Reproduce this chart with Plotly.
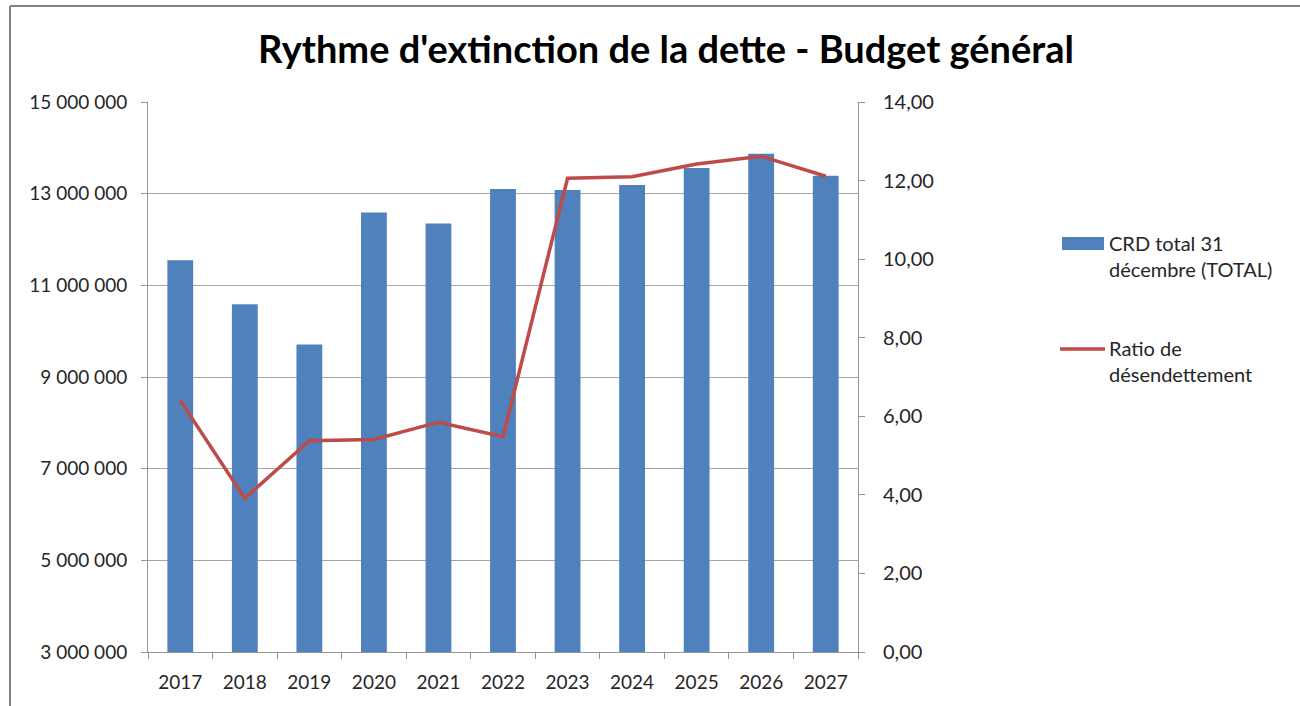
import plotly.graph_objects as go

years = ["2017", "2018", "2019", "2020", "2021", "2022", "2023", "2024", "2025", "2026", "2027"]
crd_total = [11550000, 10590000, 9710000, 12590000, 12350000, 13100000,
             13080000, 13190000, 13560000, 13870000, 13390000]
ratio = [6.40, 3.91, 5.38, 5.41, 5.85, 5.48, 12.06, 12.10, 12.42, 12.62, 12.11]

left_ticks = [3000000, 5000000, 7000000, 9000000, 11000000, 13000000, 15000000]
left_labels = ["3 000 000", "5 000 000", "7 000 000", "9 000 000", "11 000 000", "13 000 000", "15 000 000"]
right_ticks = [0, 2, 4, 6, 8, 10, 12, 14]
right_labels = ["0,00", "2,00", "4,00", "6,00", "8,00", "10,00", "12,00", "14,00"]

bar_name = "CRD total 31<br>décembre (TOTAL)"
line_name = "Ratio de<br>désendettement"

FONT = "Lato, Open Sans, sans-serif"
BAR_COLOR = "#4f81bd"
LINE_COLOR = "#be4b48"
TXT = "#262626"

W, H = 1300, 706
L, R, T, B = 148, 442, 102, 54
PW, PH = W - L - R, H - T - B


def px(x):
    return (x - L) / PW


def py(y):
    return (H - B - y) / PH


fig = go.Figure()
fig.add_trace(go.Bar(
    x=years, y=crd_total, name=bar_name,
    marker=dict(color=BAR_COLOR, line=dict(width=0)),
    yaxis="y", showlegend=False))
fig.add_trace(go.Scatter(
    x=years, y=ratio, name=line_name, mode="lines",
    line=dict(color=LINE_COLOR, width=3.5),
    yaxis="y2", showlegend=False))

fig.update_layout(
    width=W, height=H,
    paper_bgcolor="white", plot_bgcolor="white",
    margin=dict(l=L, r=R, t=T, b=B),
    bargap=0.6,
    font=dict(family=FONT, size=19, color=TXT),
    title=dict(text="<b>Rythme d'extinction de la dette - Budget général</b>",
               x=666 / W, xanchor="center", y=1 - 50 / H, yanchor="middle",
               font=dict(family=FONT, size=38, color="black")),
    xaxis=dict(type="category", range=[-0.5, 10.5], showgrid=False,
               showline=True, linecolor="#969696", linewidth=1,
               ticks="outside", tickson="boundaries", ticklen=6, tickcolor="#969696",
               ticklabelstandoff=13,
               tickfont=dict(size=19, color=TXT)),
    yaxis=dict(range=[3000000, 15000000], tickvals=left_ticks, ticktext=left_labels,
               showgrid=True, gridcolor="#a6a6a6", gridwidth=1,
               showline=True, linecolor="#969696", linewidth=1,
               ticks="outside", ticklen=6, tickcolor="#969696", zeroline=False,
               ticklabelstandoff=10,
               tickfont=dict(size=19, color=TXT)),
    yaxis2=dict(range=[0, 14], tickvals=right_ticks, ticktext=right_labels,
                overlaying="y", side="right", showgrid=False,
                showline=True, linecolor="#969696", linewidth=1,
                ticks="outside", ticklen=6, tickcolor="#969696", zeroline=False,
                ticklabelstandoff=14,
                tickfont=dict(size=20, color=TXT)),
    showlegend=False,
)

# legend (drawn manually to match the wide swatches)
fig.add_shape(type="rect", xref="paper", yref="paper",
              x0=px(1062), x1=px(1104), y0=py(250), y1=py(237),
              line=dict(width=0), fillcolor=BAR_COLOR)
fig.add_shape(type="line", xref="paper", yref="paper",
              x0=px(1060), x1=px(1105), y0=py(349), y1=py(349),
              line=dict(color=LINE_COLOR, width=3.5))
fig.add_annotation(text=bar_name, xref="paper", yref="paper",
                   x=px(1107), y=py(256), xanchor="left", yanchor="middle",
                   align="left", showarrow=False, font=dict(size=20, color=TXT))
fig.add_annotation(text=line_name, xref="paper", yref="paper",
                   x=px(1107), y=py(361), xanchor="left", yanchor="middle",
                   align="left", showarrow=False, font=dict(size=20, color=TXT))

# chart frame
fig.add_shape(type="line", xref="paper", yref="paper",
              x0=px(10), x1=px(10), y0=py(H), y1=py(6),
              line=dict(color="#808080", width=2))
fig.add_shape(type="line", xref="paper", yref="paper",
              x0=px(10), x1=px(W), y0=py(6), y1=py(6),
              line=dict(color="#808080", width=2))

fig.write_html("out.html", config={"displayModeBar": False},
               post_script="document.body.style.margin='0';")
